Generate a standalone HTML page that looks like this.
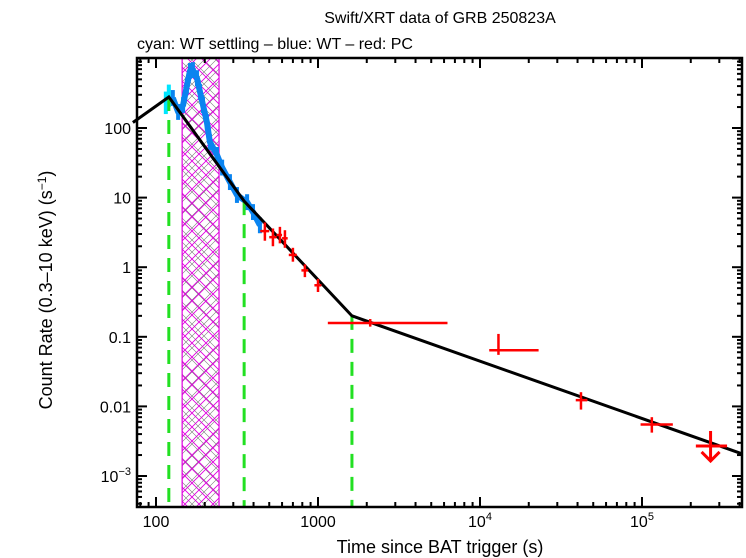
<!DOCTYPE html>
<html><head><meta charset="utf-8">
<style>
body{margin:0;background:#fff;}
svg{display:block;font-family:"Liberation Sans",sans-serif;}
</style></head>
<body>
<svg id="chart" width="746" height="558" viewBox="0 0 746 558" xmlns="http://www.w3.org/2000/svg">
<defs>
<pattern id="hatchK" width="12" height="12" patternUnits="userSpaceOnUse"><path d="M0,0L12,12M12,0L0,12" stroke="#777" stroke-width="0.6"/></pattern>
<pattern id="hatchM" width="14" height="14" patternUnits="userSpaceOnUse" x="3"><path d="M0,0L14,14M14,0L0,14" stroke="#e000e0" stroke-width="0.9"/></pattern>
</defs>
<text x="440" y="23" font-size="16" text-anchor="middle">Swift/XRT data of GRB 250823A</text>
<text x="137" y="49" font-size="16">cyan: WT settling – blue: WT – red: PC</text>
<text x="440" y="553" font-size="18" text-anchor="middle">Time since BAT trigger (s)</text>
<text transform="translate(52,290) rotate(-90)" font-size="18" text-anchor="middle">Count Rate (0.3–10 keV) (s<tspan dy="-6" font-size="12">−1</tspan><tspan dy="6">)</tspan></text>
<g id="plot"></g>
</svg>
<script>
// ---- data ----
const cyanT = [115, 120];
const cyanR = [230, 290];
const blueT = [127,137,147,155,162,169,179,187,195,206,215,238,256,286,316,365,397,438];
const blueR = [270,170,214,400,660,680,520,329,214,122,63,41,27,16.7,10.9,8.6,6.2,4.0];
const pcT   = [470,527,582,625,700,830,1000,2100,13000,42000,115000];
const pcTlo = [440,500,555,600,660,790,950,1150,11400,39000,98000];
const pcThi = [500,555,600,650,740,870,1050,6300,23000,46000,155000];
const pcR   = [3.3,2.7,2.9,2.6,1.5,0.9,0.55,0.158,0.064,0.0123,0.0055];
const pcRlo = [2.4,2.0,2.2,1.9,1.2,0.72,0.44,0.14,0.055,0.009,0.0042];
const pcRhi = [4.4,3.6,3.8,3.4,1.9,1.1,0.68,0.18,0.11,0.016,0.007];
const ulT = [265000], ulTlo=[215000], ulThi=[335000], ulR=[0.0027];
const modelT = [72,120,350,1620,410000];
const modelR = [120,279,8.9,0.2,0.0021];
const breakT = [120,350,1620];
const hatchT = [145,245];
const xTickVals = [100,1000,10000,100000];
const xTickLabels = ["100","1000","10^4","10^5"];
const yTickVals = [100,10,1,0.1,0.01,0.001];
const yTickLabels = ["100","10","1","0.1","0.01","10^-3"];

// ---- axes ----
const L=137,R=742,T=58,B=507;
const X=t=>156+162*(Math.log10(t)-2);
const Y=r=>128-69.6*(Math.log10(r)-2);
const NS="http://www.w3.org/2000/svg";
const g=document.getElementById('plot');
function mk(tag,attrs,parent){const e=document.createElementNS(NS,tag);for(const k in attrs)e.setAttribute(k,attrs[k]);(parent||g).appendChild(e);return e;}

let hk=mk('rect',{x:X(hatchT[0]),y:T,width:X(hatchT[1])-X(hatchT[0]),height:B-T,fill:'url(#hatchK)'});


let hm=mk('rect',{x:X(hatchT[0]),y:T,width:X(hatchT[1])-X(hatchT[0]),height:B-T,fill:'url(#hatchM)',stroke:'#e000e0','stroke-width':1.2});



cyanT.forEach((t,i)=>{
  const e=mk('line',{x1:X(t),x2:X(t),y1:Y(cyanR[i]*1.45),y2:Y(cyanR[i]/1.45),stroke:'#00e5ff','stroke-width':4});
  
  
});
const bp=blueT.map((t,i)=>X(t)+','+Y(blueR[i])).join(' ');
let bl=mk('polyline',{points:bp,fill:'none',stroke:'#0a84f0','stroke-width':6,'stroke-linejoin':'round'});


blueT.forEach((t,i)=>{
  const e=mk('line',{x1:X(t),x2:X(t),y1:Y(blueR[i]*1.3),y2:Y(blueR[i]/1.3),stroke:'#0a84f0','stroke-width':4});
  
  
});
function modelAt(t){
  for(let i=0;i<modelT.length-1;i++){if(t>=modelT[i]&&t<=modelT[i+1]){const f=(Math.log10(t)-Math.log10(modelT[i]))/(Math.log10(modelT[i+1])-Math.log10(modelT[i]));return Math.pow(10,Math.log10(modelR[i])+f*(Math.log10(modelR[i+1])-Math.log10(modelR[i])));}}
  return modelR[0];
}
breakT.forEach(t=>{
  const x=X(t);
  const e=mk('line',{x1:x,x2:x,y1:Y(modelAt(t)),y2:B,stroke:'#22e022','stroke-width':3,'stroke-dasharray':'14,9'});
  
  
});
let ml=mk('polyline',{points:modelT.map((t,i)=>X(t)+','+Y(modelR[i])).join(' '),fill:'none',stroke:'#000','stroke-width':3});


pcT.forEach((t,i)=>{
  const gg=mk('g',{stroke:'#ff0000','stroke-width':2.5});
  
  
  mk('line',{x1:X(pcTlo[i]),x2:X(pcThi[i]),y1:Y(pcR[i]),y2:Y(pcR[i])},gg);
  mk('line',{x1:X(t),x2:X(t),y1:Y(pcRhi[i]),y2:Y(pcRlo[i])},gg);
});
ulT.forEach((t,i)=>{
  const gg=mk('g',{stroke:'#ff0000','stroke-width':3,fill:'none'});
  
  
  const x=X(t),y=Y(ulR[i]);
  mk('line',{x1:X(ulTlo[i]),x2:X(ulThi[i]),y1:y,y2:y},gg);
  mk('line',{x1:x,x2:x,y1:y-15,y2:y+15},gg);
  mk('polyline',{points:`${x-9},${y+6} ${x},${y+15} ${x+9},${y+6}`},gg);
});

let fr=mk('rect',{x:L,y:T,width:R-L,height:B-T,fill:'none',stroke:'#000','stroke-width':2.5});


for(let d=10;d<=1e6;d*=10){for(let m=1;m<10;m++){const t=d*m;const x=X(t);if(x<L||x>R)continue;const len=m===1?10:5;
  mk('line',{x1:x,x2:x,y1:B,y2:B-len,stroke:'#000','stroke-width':2});
  mk('line',{x1:x,x2:x,y1:T,y2:T+len,stroke:'#000','stroke-width':2});}}
for(let d=1e-4;d<=1e3;d*=10){for(let m=1;m<10;m++){const r=d*m;const y=Y(r);if(y<T||y>B)continue;const len=m===1?10:5;
  mk('line',{x1:L,x2:L+len,y1:y,y2:y,stroke:'#000','stroke-width':2});
  mk('line',{x1:R,x2:R-len,y1:y,y2:y,stroke:'#000','stroke-width':2});}}
function lab(txt,x,y,anchor,name){
  const e=mk('text',{x:x,y:y,'font-size':16,'text-anchor':anchor});
  
  
  if(txt.indexOf('^')>=0){const [b,p]=txt.split('^');e.textContent=b;const ts=mk('tspan',{dy:-7,'font-size':11},e);ts.textContent=p.replace('-','−');}
  else e.textContent=txt;
}
xTickVals.forEach((v,i)=>lab(xTickLabels[i],X(v),527,'middle','x-tick-label'));
yTickVals.forEach((v,i)=>lab(yTickLabels[i],L-6,Y(v)+6,'end','y-tick-label'));
</script>
</body></html>
